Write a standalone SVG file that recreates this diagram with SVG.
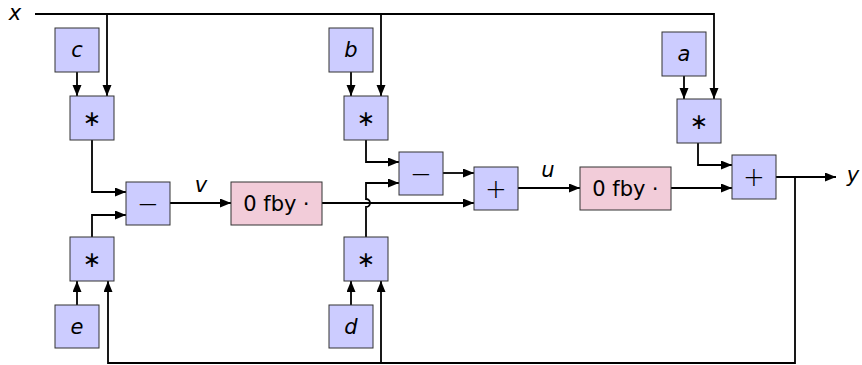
<svg xmlns="http://www.w3.org/2000/svg" width="862" height="365" viewBox="0 0 862 365">
  <defs>
    <marker id="arrow" markerWidth="12" markerHeight="10" refX="11" refY="4.5" orient="auto" markerUnits="userSpaceOnUse">
      <path d="M0,0 L11,4.5 L0,9 z" fill="#000"/>
    </marker>
    <style>
      .op { fill: #ccccff; stroke: #333; stroke-width: 1; }
      .reg { fill: #f2ccd9; stroke: #333; stroke-width: 1; }
      .lbl { font-family: "DejaVu Sans", "Open Sans", sans-serif; font-size: 21px; fill: #000; text-anchor: middle; dominant-baseline: central; }
      .var { font-style: italic; }
      .sym { font-size: 26px; font-weight: 200; }
      .ast { font-size: 22px; }
      .wire { fill: none; stroke: #000; stroke-width: 1.8; }
      .arr { marker-end: url(#arrow); }
    </style>
  </defs>

  <rect width="862" height="365" fill="#fff"/>

  <!-- free labels -->
  <text class="lbl var" x="15" y="13">x</text>
  <text class="lbl var" x="201" y="185">v</text>
  <text class="lbl var" x="548" y="170">u</text>
  <text class="lbl var" x="853" y="175">y</text>

  <!-- connectors -->
  <g id="connectors">
    <path class="wire arr" d="M35,14 H714 V99"/>
    <path class="wire arr" d="M107,14 V96"/>
    <path class="wire arr" d="M381,14 V96"/>
    <path class="wire arr" d="M77,72 V96"/>
    <path class="wire arr" d="M351,72 V96"/>
    <path class="wire arr" d="M684,76 V99"/>
    <path class="wire arr" d="M92,140 V192 H126"/>
    <path class="wire arr" d="M92,237 V215 H126"/>
    <path class="wire arr" d="M170,203 H231"/>
    <path class="wire arr" d="M322,203 H474"/>
    <path class="wire arr" d="M366,140 V162 H399"/>
    <path class="wire arr" d="M366,237 V207 A4,4 0 0 0 366,199 V183 H399"/>
    <path class="wire arr" d="M443,173 H474"/>
    <path class="wire arr" d="M518,188 H580"/>
    <path class="wire arr" d="M671,188 H732"/>
    <path class="wire arr" d="M698,143 V165 H732"/>
    <path class="wire arr" d="M776,177 H836"/>
    <path class="wire arr" d="M795,177 V363 H108 V281"/>
    <path class="wire arr" d="M381,363 V281"/>
    <path class="wire arr" d="M77,305 V281"/>
    <path class="wire arr" d="M351,305 V281"/>
  </g>

  <!-- nodes -->
  <g id="c"><rect class="op" x="55" y="28" width="44" height="44"/><text class="lbl var" x="77" y="50">c</text></g>
  <g id="mulC"><rect class="op" x="70" y="96" width="44" height="44"/><text class="lbl ast" x="92" y="118">∗</text></g>
  <g id="subV"><rect class="op" x="126" y="182" width="44" height="43"/><text class="lbl sym" x="148" y="203.5">−</text></g>
  <g id="mulE"><rect class="op" x="70" y="237" width="44" height="44"/><text class="lbl ast" x="92" y="259">∗</text></g>
  <g id="e"><rect class="op" x="55" y="305" width="44" height="43"/><text class="lbl var" x="77" y="326.5">e</text></g>
  <g id="fbyV"><rect class="reg" x="231" y="182" width="91" height="43"/><text class="lbl" x="276.5" y="203.5">0 fby ⋅</text></g>
  <g id="b"><rect class="op" x="329" y="28" width="44" height="44"/><text class="lbl var" x="351" y="50">b</text></g>
  <g id="mulB"><rect class="op" x="344" y="96" width="44" height="44"/><text class="lbl ast" x="366" y="118">∗</text></g>
  <g id="subU"><rect class="op" x="399" y="152" width="44" height="43"/><text class="lbl sym" x="421" y="173.5">−</text></g>
  <g id="mulD"><rect class="op" x="344" y="237" width="44" height="44"/><text class="lbl ast" x="366" y="259">∗</text></g>
  <g id="d"><rect class="op" x="329" y="305" width="44" height="43"/><text class="lbl var" x="351" y="326.5">d</text></g>
  <g id="addU"><rect class="op" x="474" y="167" width="44" height="43"/><text class="lbl sym" x="496" y="188.5">+</text></g>
  <g id="fbyU"><rect class="reg" x="580" y="167" width="91" height="43"/><text class="lbl" x="625.5" y="188.5">0 fby ⋅</text></g>
  <g id="a"><rect class="op" x="662" y="32" width="44" height="44"/><text class="lbl var" x="684" y="54">a</text></g>
  <g id="mulA"><rect class="op" x="677" y="99" width="44" height="44"/><text class="lbl ast" x="699" y="121">∗</text></g>
  <g id="addY"><rect class="op" x="732" y="155" width="44" height="44"/><text class="lbl sym" x="754" y="177">+</text></g>
</svg>
